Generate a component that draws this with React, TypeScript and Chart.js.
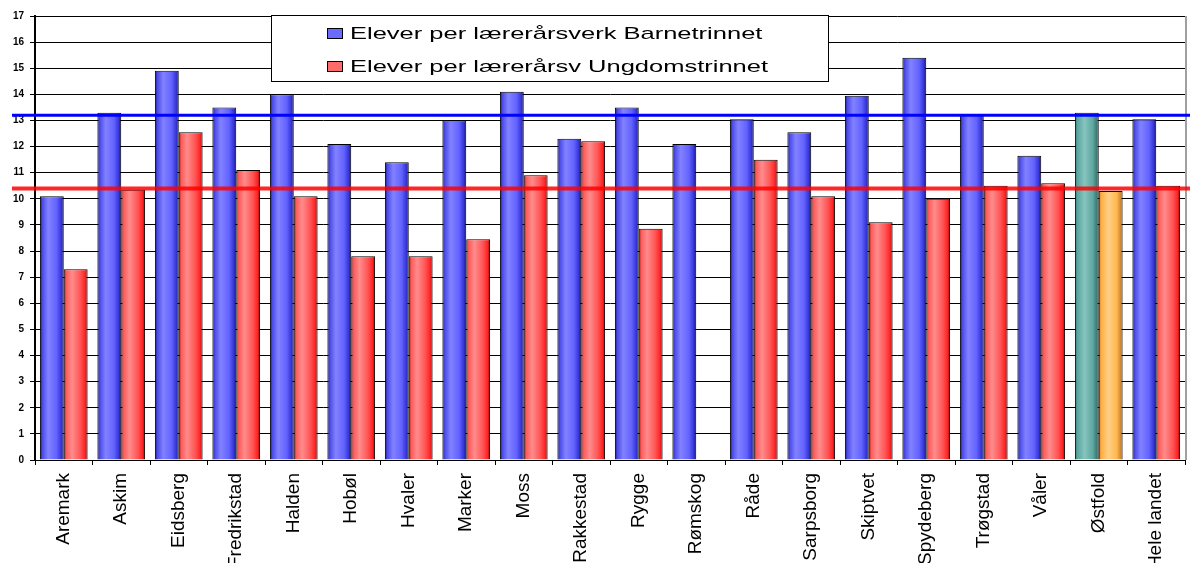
import React, { useEffect, useRef } from "react";
import { Chart, registerables } from "chart.js";

Chart.register(...registerables);

const categories = [
  "Aremark", "Askim", "Eidsberg", "Fredrikstad", "Halden", "Hobøl", "Hvaler",
  "Marker", "Moss", "Rakkestad", "Rygge", "Rømskog", "Råde", "Sarpsborg",
  "Skiptvet", "Spydeberg", "Trøgstad", "Våler", "Østfold", "Hele landet",
];
const barnetrinnet = [
  10.1, 13.3, 14.9, 13.5, 14.0, 12.1, 11.4, 13.0, 14.1, 12.3,
  13.5, 12.1, 13.05, 12.55, 13.95, 15.4, 13.25, 11.65, 13.3, 13.05,
];
const ungdomstrinnet: (number | null)[] = [
  7.3, 10.35, 12.55, 11.1, 10.1, 7.8, 7.8, 8.45, 10.9, 12.2,
  8.85, null, 11.5, 10.1, 9.1, 10.0, 10.5, 10.6, 10.3, 10.5,
];
const seriesLabels = [
  "Elever per lærerårsverk Barnetrinnet",
  "Elever per lærerårsv Ungdomstrinnet",
];
const referenceLines = [13.2, 10.4];
const highlightCategory = "Østfold";
const yTicks = { min: 0, max: 17, step: 1 };

const CAT_PCT = 0.83;
const FONT = "'Liberation Sans', Arial, Helvetica, sans-serif";

const blueStops: [number, string][] = [
  [0, "#14146e"], [0.1, "#4a4ae8"], [0.35, "#8282ff"], [0.7, "#6262ff"], [0.9, "#3434d8"], [1, "#12125e"],
];
const redStops: [number, string][] = [
  [0, "#8a1414"], [0.1, "#ff5a5a"], [0.35, "#ff8c8c"], [0.7, "#ff5454"], [0.9, "#ff2222"], [1, "#7a1010"],
];
const tealStops: [number, string][] = [
  [0, "#2f6f6a"], [0.1, "#5aa49e"], [0.4, "#86c4be"], [0.75, "#5fa8a1"], [1, "#2c625e"],
];
const orangeStops: [number, string][] = [
  [0, "#c07820"], [0.1, "#ffae40"], [0.4, "#ffcf86"], [0.75, "#ffb850"], [1, "#b87020"],
];
const flatColors = ["#6a6aff", "#ff6a6a"];
const lineColors = ["#0000ff", "rgba(255,0,0,0.85)"];

function barFill(c: any) {
  const ds = c.datasetIndex ?? 0;
  if (c.type !== "data") return flatColors[ds];
  const chart = c.chart;
  const xs = chart.scales?.x;
  if (!xs || !chart.chartArea) return flatColors[ds];
  const catW = (xs.right - xs.left) / categories.length;
  const groupW = catW * CAT_PCT;
  const barW = groupW / 2;
  const center = xs.getPixelForValue(c.dataIndex);
  const left = center - groupW / 2 + ds * barW;
  const hi = categories[c.dataIndex] === highlightCategory;
  const stops = ds === 0 ? (hi ? tealStops : blueStops) : hi ? orangeStops : redStops;
  const g = chart.ctx.createLinearGradient(left, 0, left + barW, 0);
  stops.forEach(([o, col]) => g.addColorStop(o, col));
  return g;
}

const decorPlugin = {
  id: "decor",
  beforeDatasetsDraw(chart: any) {
    const { ctx, chartArea } = chart;
    ctx.save();
    ctx.strokeStyle = "#a0a0a0";
    ctx.lineWidth = 2;
    ctx.beginPath();
    ctx.moveTo(chartArea.right + 1, chartArea.top);
    ctx.lineTo(chartArea.right + 1, chartArea.bottom);
    ctx.stroke();
    ctx.restore();
  },
  afterDatasetsDraw(chart: any) {
    const { ctx } = chart;
    const ys = chart.scales.y;
    ctx.save();
    referenceLines.forEach((v, i) => {
      const y = ys.getPixelForValue(v);
      ctx.strokeStyle = lineColors[i];
      ctx.lineWidth = i === 0 ? 3 : 4;
      ctx.beginPath();
      ctx.moveTo(12, y);
      ctx.lineTo(chart.width, y);
      ctx.stroke();
    });
    ctx.restore();
  },
  afterDraw(chart: any) {
    const { ctx } = chart;
    ctx.save();
    const bx = 271.5, by = 15.5, bw = 557, bh = 66;
    ctx.fillStyle = "#ffffff";
    ctx.fillRect(bx, by, bw, bh);
    ctx.strokeStyle = "#000";
    ctx.lineWidth = 1;
    ctx.strokeRect(bx, by, bw, bh);
    const rows = [33.5, 66.5];
    chart.data.datasets.forEach((ds: any, i: number) => {
      const y = rows[i];
      ctx.fillStyle = flatColors[i];
      ctx.fillRect(327.5, y - 5, 15, 10);
      ctx.strokeStyle = "#000";
      ctx.strokeRect(327.5, y - 5, 15, 10);
      ctx.save();
      ctx.translate(350, y);
      ctx.scale(1.5, 1);
      ctx.fillStyle = "#000";
      ctx.font = `17px ${FONT}`;
      ctx.textBaseline = "middle";
      ctx.textAlign = "left";
      ctx.fillText(ds.label, 0, 1);
      ctx.restore();
    });
    ctx.restore();
  },
};

export default function App() {
  const ref = useRef<HTMLCanvasElement>(null);
  useEffect(() => {
    document.body.style.margin = "0";
    if (!ref.current) return;
    const chart = new Chart(ref.current, {
      type: "bar",
      data: {
        labels: categories,
        datasets: [
          {
            label: seriesLabels[0],
            data: barnetrinnet,
            backgroundColor: barFill as any,
            borderColor: "#000",
            borderWidth: 1,
            borderSkipped: "bottom",
            categoryPercentage: CAT_PCT,
            barPercentage: 1,
          },
          {
            label: seriesLabels[1],
            data: ungdomstrinnet,
            backgroundColor: barFill as any,
            borderColor: "#000",
            borderWidth: 1,
            borderSkipped: "bottom",
            categoryPercentage: CAT_PCT,
            barPercentage: 1,
          },
        ],
      },
      options: {
        responsive: false,
        animation: false,
        layout: { padding: { top: 16, right: 5, left: 0, bottom: 0 } },
        plugins: {
          legend: { display: false },
          tooltip: { enabled: false },
        },
        scales: {
          x: {
            offset: true,
            grid: {
              display: true,
              drawOnChartArea: false,
              drawTicks: true,
              tickLength: 5,
              color: "#000",
              offset: true,
            },
            border: { color: "#000", width: 1 },
            ticks: {
              autoSkip: false,
              minRotation: 90,
              maxRotation: 90,
              padding: 8,
              color: "#000",
              font: { family: FONT, size: 19 },
            },
            afterFit(scale: any) {
              scale.height = 103;
            },
          },
          y: {
            min: yTicks.min,
            max: yTicks.max,
            ticks: {
              stepSize: yTicks.step,
              color: "#000",
              padding: 6,
              font: { family: FONT, size: 10, weight: "bold" },
            },
            grid: { color: "#000", lineWidth: 1, tickLength: 5, drawTicks: true },
            border: { color: "#000", width: 2 },
            afterFit(scale: any) {
              scale.width = 35;
            },
          },
        },
      },
      plugins: [decorPlugin],
    });
    return () => chart.destroy();
  }, []);
  return (
    <div style={{ width: 1190, height: 563, position: "relative", overflow: "hidden", background: "#fff" }}>
      <canvas ref={ref} width={1190} height={563} style={{ width: 1190, height: 563, display: "block" }} />
    </div>
  );
}
